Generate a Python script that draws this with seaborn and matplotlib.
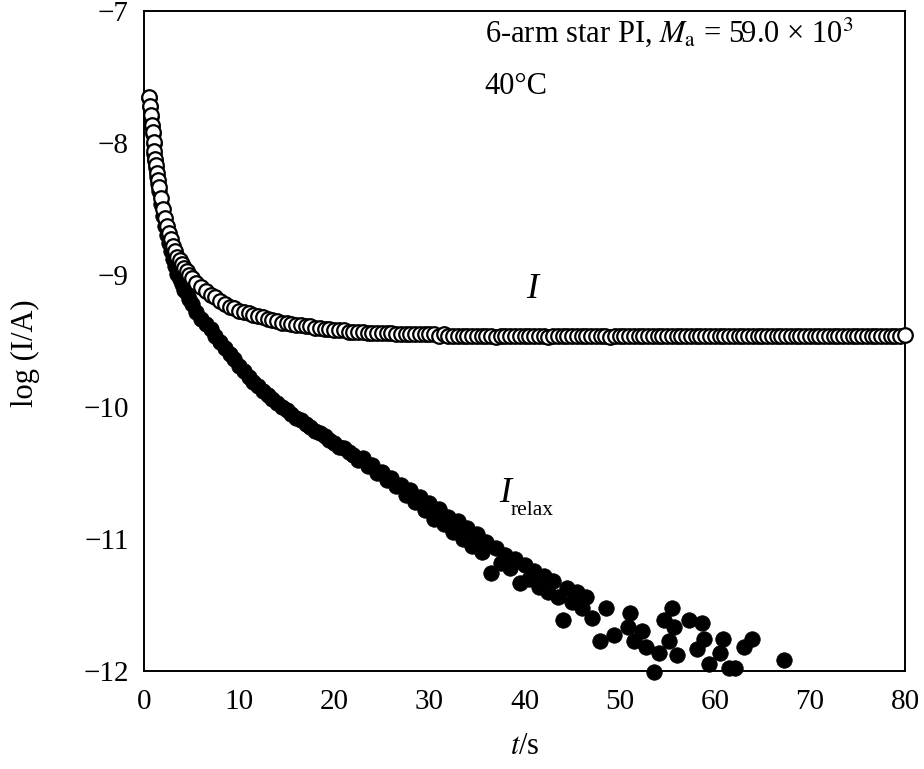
import matplotlib
matplotlib.use("Agg")
import matplotlib.pyplot as plt
import seaborn as sns
import pandas as pd

# ---------------- data ----------------
i_time = [0.5, 0.6, 0.7, 0.8, 0.9, 1.0, 1.1, 1.2, 1.3, 1.4, 1.5, 1.6, 1.8, 2.0, 2.2, 2.4, 2.6, 2.8,
          3.0, 3.25, 3.5, 3.75, 4.0, 4.25, 4.5, 4.75, 5.0,
          5.5, 6.0, 6.5, 7.0, 7.5, 8.0, 8.5, 9.0, 9.5, 10.0,
          10.5, 11.0, 11.5, 12.0, 12.5, 13.0, 13.5, 14.0, 14.5, 15.0,
          15.5, 16.0, 16.5, 17.0, 17.5, 18.0, 18.5, 19.0, 19.5, 20.0,
          20.5, 21.0, 21.5, 22.0, 22.5, 23.0, 23.5, 24.0, 24.5, 25.0,
          25.5, 26.0, 26.5, 27.0, 27.5, 28.0, 28.5, 29.0, 29.5, 30.0,
          30.5, 31.0, 31.5, 32.0, 32.5, 33.0, 33.5, 34.0, 34.5, 35.0,
          35.5, 36.0, 36.5, 37.0, 37.5, 38.0, 38.5, 39.0, 39.5, 40.0,
          40.5, 41.0, 41.5, 42.0, 42.5, 43.0, 43.5, 44.0, 44.5, 45.0,
          45.5, 46.0, 46.5, 47.0, 47.5, 48.0, 48.5, 49.0, 49.5, 50.0,
          50.5, 51.0, 51.5, 52.0, 52.5, 53.0, 53.5, 54.0, 54.5, 55.0,
          55.5, 56.0, 56.5, 57.0, 57.5, 58.0, 58.5, 59.0, 59.5, 60.0,
          60.5, 61.0, 61.5, 62.0, 62.5, 63.0, 63.5, 64.0, 64.5, 65.0,
          65.5, 66.0, 66.5, 67.0, 67.5, 68.0, 68.5, 69.0, 69.5, 70.0,
          70.5, 71.0, 71.5, 72.0, 72.5, 73.0, 73.5, 74.0, 74.5, 75.0,
          75.5, 76.0, 76.5, 77.0, 77.5, 78.0, 78.5, 79.0, 79.5, 80.0]
i_logI = [-7.65, -7.72, -7.79, -7.86, -7.92, -7.99, -8.06, -8.12, -8.17, -8.23, -8.28, -8.33, -8.42, -8.50,
          -8.57, -8.63, -8.68, -8.73, -8.78, -8.82, -8.86, -8.89, -8.92, -8.95, -8.97, -9.00, -9.02,
          -9.06, -9.09, -9.12, -9.15, -9.17, -9.20, -9.22, -9.24, -9.25, -9.27,
          -9.28, -9.29, -9.30, -9.31, -9.32, -9.33, -9.34, -9.35, -9.36, -9.36,
          -9.37, -9.38, -9.38, -9.39, -9.39, -9.40, -9.40, -9.41, -9.41, -9.42,
          -9.42, -9.42, -9.43, -9.43, -9.43, -9.43, -9.44, -9.44, -9.44, -9.44,
          -9.44, -9.44, -9.45, -9.45, -9.45, -9.45, -9.45, -9.45, -9.45, -9.45,
          -9.45, -9.46, -9.45, -9.46, -9.46, -9.46, -9.46, -9.46, -9.46, -9.46,
          -9.46, -9.46, -9.46, -9.47, -9.46, -9.46, -9.46, -9.46, -9.46, -9.46,
          -9.46, -9.46, -9.46, -9.46, -9.47, -9.46, -9.46, -9.46, -9.46, -9.46,
          -9.46, -9.46, -9.46, -9.46, -9.46, -9.46, -9.46, -9.47, -9.46, -9.46,
          -9.46, -9.46, -9.46, -9.46, -9.46, -9.46, -9.46, -9.46, -9.46, -9.46,
          -9.46, -9.46, -9.46, -9.46, -9.46, -9.46, -9.46, -9.46, -9.46, -9.46,
          -9.46, -9.46, -9.46, -9.46, -9.46, -9.46, -9.46, -9.46, -9.46, -9.46,
          -9.46, -9.46, -9.46, -9.46, -9.46, -9.46, -9.46, -9.46, -9.46, -9.46,
          -9.46, -9.46, -9.46, -9.46, -9.46, -9.46, -9.46, -9.46, -9.46, -9.46,
          -9.46, -9.46, -9.46, -9.46, -9.46, -9.46, -9.46, -9.46, -9.46, -9.455]

relax_time = [0.5, 0.6, 0.7, 0.8, 0.9, 1.0, 1.1, 1.2, 1.3, 1.4, 1.5, 1.6, 1.8, 2.0, 2.2, 2.4, 2.6, 2.8,
              3.0, 3.25, 3.5, 3.75, 4.0, 4.25, 4.5, 4.75, 5.0,
              5.5, 6.0, 6.5, 7.0, 7.5, 8.0, 8.5, 9.0, 9.5, 10.0,
              10.5, 11.0, 11.5, 12.0, 12.5, 13.0, 13.5, 14.0, 14.5, 15.0,
              15.5, 16.0, 16.5, 17.0, 17.5, 18.0, 18.5, 19.0, 19.5, 20.0,
              20.5, 21.0, 21.5, 22.0, 22.5, 23.0, 23.5, 24.0, 24.5, 25.0,
              25.5, 26.0, 26.5, 27.0, 27.5, 28.0, 28.5, 29.0, 29.5, 30.0,
              30.5, 31.0, 31.5, 32.0, 32.5, 33.0, 33.5, 34.0, 34.5, 35.0,
              35.5, 36.0, 36.5, 37.0, 37.5, 38.0, 38.5, 39.0, 39.5, 40.0,
              40.5, 41.0, 41.5, 42.0, 42.5, 43.0, 43.5, 44.0, 44.5, 45.0,
              45.5, 46.0, 46.5,
              47.1, 47.9, 48.6, 49.4, 50.9, 51.1, 51.5, 52.3, 52.8, 53.6,
              54.1, 54.7, 55.2, 55.5, 55.7, 56.0, 57.3, 58.1, 58.7, 58.9,
              59.4, 60.5, 60.9, 61.5, 62.1, 63.1, 63.9, 67.3]
relax_logI = [-7.66, -7.73, -7.80, -7.87, -7.93, -8.01, -8.08, -8.14, -8.19, -8.26, -8.31, -8.36, -8.46,
              -8.55, -8.63, -8.70, -8.76, -8.82, -8.88, -8.93, -8.99, -9.03, -9.07, -9.11, -9.14, -9.18, -9.22,
              -9.28, -9.33, -9.37, -9.41, -9.46, -9.51, -9.55, -9.60, -9.64, -9.69,
              -9.73, -9.77, -9.81, -9.84, -9.88, -9.91, -9.94, -9.97, -10.00, -10.02,
              -10.05, -10.08, -10.10, -10.13, -10.15, -10.18, -10.20, -10.22, -10.25, -10.27,
              -10.30, -10.31, -10.34, -10.36, -10.40, -10.39, -10.45, -10.44, -10.50, -10.49,
              -10.55, -10.54, -10.60, -10.59, -10.67, -10.63, -10.72, -10.68, -10.78, -10.73,
              -10.85, -10.77, -10.89, -10.83, -10.95, -10.86, -11.00, -10.92, -11.05, -10.96,
              -11.10, -11.02, -11.26, -11.07, -11.18, -11.12, -11.22, -11.15, -11.33, -11.20,
              -11.30, -11.24, -11.36, -11.28, -11.40, -11.32, -11.44, -11.61, -11.37, -11.48,
              -11.40, -11.52, -11.44,
              -11.60, -11.77, -11.52, -11.73, -11.67, -11.56, -11.77, -11.70, -11.82, -12.01,
              -11.86, -11.61, -11.77, -11.52, -11.67, -11.88, -11.61, -11.83, -11.64, -11.76,
              -11.95, -11.86, -11.76, -11.98, -11.98, -11.82, -11.76, -11.92]

x_ticks = [0, 10, 20, 30, 40, 50, 60, 70, 80]
y_ticks = [-12, -11, -10, -9, -8, -7]

df_i = pd.DataFrame({"t": i_time, "logI": i_logI})
df_r = pd.DataFrame({"t": relax_time, "logI": relax_logI})

# ---------------- style ----------------
sns.set_theme(style="white")
plt.rcParams["font.family"] = ["Liberation Serif", "DejaVu Serif"]
plt.rcParams["mathtext.fontset"] = "stix"
plt.rcParams["axes.unicode_minus"] = True

fig = plt.figure(figsize=(9.24, 7.69), dpi=100)
ax = fig.add_axes([144 / 924, 1 - 671 / 769, (905 - 144) / 924, (671 - 11) / 769])

sns.scatterplot(data=df_r, x="t", y="logI", ax=ax, s=125, color="black",
                edgecolor="black", linewidth=0.5, clip_on=False, zorder=3, legend=False)
sns.scatterplot(data=df_i, x="t", y="logI", ax=ax, s=110, color="white",
                edgecolor="black", linewidth=1.6, clip_on=False, zorder=4, legend=False)

ax.set_xlim(0, 80)
ax.set_ylim(-12, -7)
ax.set_xticks(x_ticks)
ax.set_yticks(y_ticks)
ax.set_xticklabels([str(v) for v in x_ticks])
ax.set_yticklabels(["\u2212" + str(abs(v)) for v in y_ticks])
ax.tick_params(axis="both", direction="in", length=5, width=1.3, labelsize=21,
               colors="black", top=False, right=False)
ax.tick_params(axis="x", pad=13)
ax.tick_params(axis="y", pad=11)
for sp in ax.spines.values():
    sp.set_linewidth(1.4)
    sp.set_color("black")
    sp.set_visible(True)

ax.set_xlabel(r"$t$/s", fontsize=22, labelpad=12, color="black")
ax.set_ylabel("log (I/A)", fontsize=22, color="black")
ax.yaxis.set_label_coords((40 - 144) / 761, (671 - 353) / 660)

ax.text(35.8, -7.235, r"6-arm star PI, $M_{\rm a}$ = 59.0 × 10$^{3}$", fontsize=22,
        ha="left", va="baseline", color="black")
ax.text(35.8, -7.63, "40°C", fontsize=22, ha="left", va="baseline", color="black")
ax.text(40.2, -9.174, "I", fontsize=26, style="italic", ha="left", va="baseline", color="black")
ax.text(37.3, -10.72, "I", fontsize=26, style="italic", ha="left", va="baseline", color="black")
ax.text(38.5, -10.82, "relax", fontsize=15.5, ha="left", va="baseline", color="black")

fig.savefig("out.png", dpi=100, facecolor="white")
